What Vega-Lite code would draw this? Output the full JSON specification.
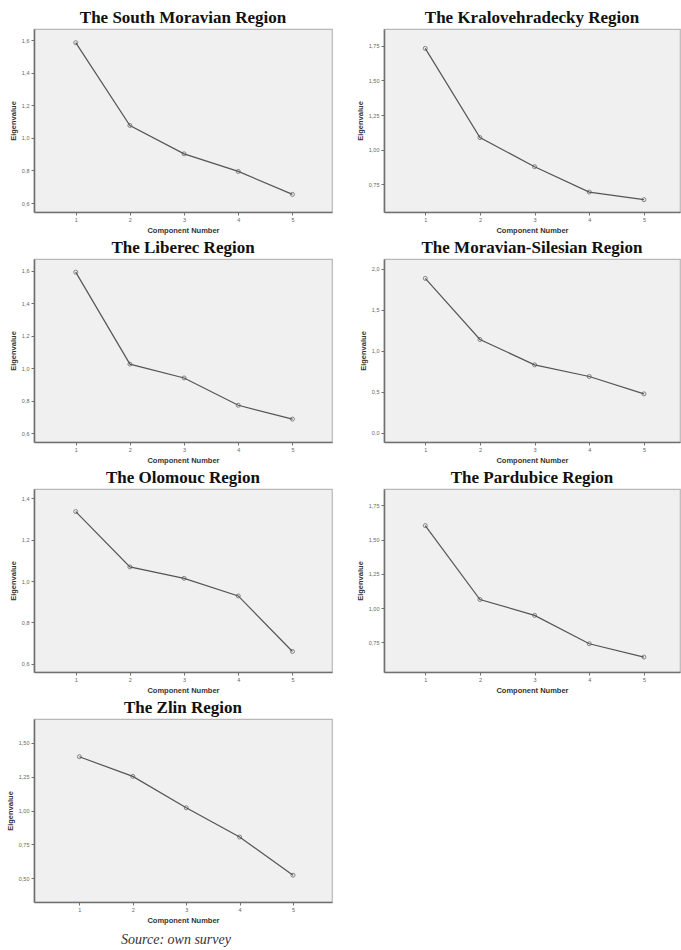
{
  "$schema": "https://vega.github.io/schema/vega-lite/v6.json",
  "padding": {"left": 5, "top": 8, "right": 0, "bottom": 0},
  "background": "white",
  "datasets": {
    "eig": [
      {"region": "SM", "component": 1, "eigenvalue": 1.584},
      {"region": "SM", "component": 2, "eigenvalue": 1.076},
      {"region": "SM", "component": 3, "eigenvalue": 0.902},
      {"region": "SM", "component": 4, "eigenvalue": 0.794},
      {"region": "SM", "component": 5, "eigenvalue": 0.653},
      {"region": "KH", "component": 1, "eigenvalue": 1.731},
      {"region": "KH", "component": 2, "eigenvalue": 1.087},
      {"region": "KH", "component": 3, "eigenvalue": 0.877},
      {"region": "KH", "component": 4, "eigenvalue": 0.694},
      {"region": "KH", "component": 5, "eigenvalue": 0.639},
      {"region": "LB", "component": 1, "eigenvalue": 1.590},
      {"region": "LB", "component": 2, "eigenvalue": 1.024},
      {"region": "LB", "component": 3, "eigenvalue": 0.939},
      {"region": "LB", "component": 4, "eigenvalue": 0.771},
      {"region": "LB", "component": 5, "eigenvalue": 0.686},
      {"region": "MS", "component": 1, "eigenvalue": 1.882},
      {"region": "MS", "component": 2, "eigenvalue": 1.138},
      {"region": "MS", "component": 3, "eigenvalue": 0.829},
      {"region": "MS", "component": 4, "eigenvalue": 0.687},
      {"region": "MS", "component": 5, "eigenvalue": 0.476},
      {"region": "OL", "component": 1, "eigenvalue": 1.335},
      {"region": "OL", "component": 2, "eigenvalue": 1.068},
      {"region": "OL", "component": 3, "eigenvalue": 1.013},
      {"region": "OL", "component": 4, "eigenvalue": 0.928},
      {"region": "OL", "component": 5, "eigenvalue": 0.660},
      {"region": "PA", "component": 1, "eigenvalue": 1.602},
      {"region": "PA", "component": 2, "eigenvalue": 1.063},
      {"region": "PA", "component": 3, "eigenvalue": 0.947},
      {"region": "PA", "component": 4, "eigenvalue": 0.740},
      {"region": "PA", "component": 5, "eigenvalue": 0.643},
      {"region": "ZL", "component": 1, "eigenvalue": 1.397},
      {"region": "ZL", "component": 2, "eigenvalue": 1.252},
      {"region": "ZL", "component": 3, "eigenvalue": 1.020},
      {"region": "ZL", "component": 4, "eigenvalue": 0.804},
      {"region": "ZL", "component": 5, "eigenvalue": 0.522}
    ]
  },
  "title": {"text": "Source: own survey", "orient": "bottom", "anchor": "start", "align": "center", "frame": "group", "dx": 142, "offset": 8, "font": "Liberation Serif", "fontStyle": "italic", "fontWeight": "normal", "fontSize": 14, "color": "#333333"},
  "columns": 2,
  "spacing": {"row": 47, "column": 52},
  "bounds": "flush",
  "concat": [
    {
      "title": "The South Moravian Region",
      "width": 298, "height": 183,
      "data": {"name": "eig"},
      "transform": [{"filter": "datum.region === 'SM'"}],
      "encoding": {
        "x": {"field": "component", "type": "quantitative", "scale": {"domain": [0.23, 5.73], "nice": false, "zero": false}, "axis": {"values": [1, 2, 3, 4, 5], "title": "Component Number"}},
        "y": {"field": "eigenvalue", "type": "quantitative", "scale": {"domain": [0.545, 1.668], "nice": false, "zero": false}, "axis": {"values": [0.6, 0.8, 1.0, 1.2, 1.4, 1.6], "labelExpr": "replace(format(datum.value, '.1f'), '.', ',')", "title": "Eigenvalue"}}
      },
      "layer": [
        {"mark": {"type": "line", "color": "#555555", "strokeWidth": 1.2}},
        {"mark": {"type": "point", "shape": "circle", "size": 16, "filled": false, "color": "#555555", "strokeWidth": 1}}
      ]
    },
    {
      "title": "The Kralovehradecky Region",
      "width": 296, "height": 183,
      "data": {"name": "eig"},
      "transform": [{"filter": "datum.region === 'KH'"}],
      "encoding": {
        "x": {"field": "component", "type": "quantitative", "scale": {"domain": [0.245, 5.66], "nice": false, "zero": false}, "axis": {"values": [1, 2, 3, 4, 5], "title": "Component Number"}},
        "y": {"field": "eigenvalue", "type": "quantitative", "scale": {"domain": [0.55, 1.871], "nice": false, "zero": false}, "axis": {"values": [0.75, 1.0, 1.25, 1.5, 1.75], "labelExpr": "replace(format(datum.value, '.2f'), '.', ',')", "title": "Eigenvalue"}}
      },
      "layer": [
        {"mark": {"type": "line", "color": "#555555", "strokeWidth": 1.2}},
        {"mark": {"type": "point", "shape": "circle", "size": 16, "filled": false, "color": "#555555", "strokeWidth": 1}}
      ]
    },
    {
      "title": "The Liberec Region",
      "width": 298, "height": 183,
      "data": {"name": "eig"},
      "transform": [{"filter": "datum.region === 'LB'"}],
      "encoding": {
        "x": {"field": "component", "type": "quantitative", "scale": {"domain": [0.23, 5.73], "nice": false, "zero": false}, "axis": {"values": [1, 2, 3, 4, 5], "title": "Component Number"}},
        "y": {"field": "eigenvalue", "type": "quantitative", "scale": {"domain": [0.545, 1.671], "nice": false, "zero": false}, "axis": {"values": [0.6, 0.8, 1.0, 1.2, 1.4, 1.6], "labelExpr": "replace(format(datum.value, '.1f'), '.', ',')", "title": "Eigenvalue"}}
      },
      "layer": [
        {"mark": {"type": "line", "color": "#555555", "strokeWidth": 1.2}},
        {"mark": {"type": "point", "shape": "circle", "size": 16, "filled": false, "color": "#555555", "strokeWidth": 1}}
      ]
    },
    {
      "title": "The Moravian-Silesian Region",
      "width": 296, "height": 183,
      "data": {"name": "eig"},
      "transform": [{"filter": "datum.region === 'MS'"}],
      "encoding": {
        "x": {"field": "component", "type": "quantitative", "scale": {"domain": [0.245, 5.66], "nice": false, "zero": false}, "axis": {"values": [1, 2, 3, 4, 5], "title": "Component Number"}},
        "y": {"field": "eigenvalue", "type": "quantitative", "scale": {"domain": [-0.11, 2.118], "nice": false, "zero": false}, "axis": {"values": [0, 0.5, 1.0, 1.5, 2.0], "labelExpr": "replace(format(datum.value, '.1f'), '.', ',')", "title": "Eigenvalue"}}
      },
      "layer": [
        {"mark": {"type": "line", "color": "#555555", "strokeWidth": 1.2}},
        {"mark": {"type": "point", "shape": "circle", "size": 16, "filled": false, "color": "#555555", "strokeWidth": 1}}
      ]
    },
    {
      "title": "The Olomouc Region",
      "width": 298, "height": 183,
      "data": {"name": "eig"},
      "transform": [{"filter": "datum.region === 'OL'"}],
      "encoding": {
        "x": {"field": "component", "type": "quantitative", "scale": {"domain": [0.23, 5.73], "nice": false, "zero": false}, "axis": {"values": [1, 2, 3, 4, 5], "title": "Component Number"}},
        "y": {"field": "eigenvalue", "type": "quantitative", "scale": {"domain": [0.561, 1.444], "nice": false, "zero": false}, "axis": {"values": [0.6, 0.8, 1.0, 1.2, 1.4], "labelExpr": "replace(format(datum.value, '.1f'), '.', ',')", "title": "Eigenvalue"}}
      },
      "layer": [
        {"mark": {"type": "line", "color": "#555555", "strokeWidth": 1.2}},
        {"mark": {"type": "point", "shape": "circle", "size": 16, "filled": false, "color": "#555555", "strokeWidth": 1}}
      ]
    },
    {
      "title": "The Pardubice Region",
      "width": 296, "height": 183,
      "data": {"name": "eig"},
      "transform": [{"filter": "datum.region === 'PA'"}],
      "encoding": {
        "x": {"field": "component", "type": "quantitative", "scale": {"domain": [0.245, 5.66], "nice": false, "zero": false}, "axis": {"values": [1, 2, 3, 4, 5], "title": "Component Number"}},
        "y": {"field": "eigenvalue", "type": "quantitative", "scale": {"domain": [0.534, 1.869], "nice": false, "zero": false}, "axis": {"values": [0.75, 1.0, 1.25, 1.5, 1.75], "labelExpr": "replace(format(datum.value, '.2f'), '.', ',')", "title": "Eigenvalue"}}
      },
      "layer": [
        {"mark": {"type": "line", "color": "#555555", "strokeWidth": 1.2}},
        {"mark": {"type": "point", "shape": "circle", "size": 16, "filled": false, "color": "#555555", "strokeWidth": 1}}
      ]
    },
    {
      "title": "The Zlin Region",
      "width": 298, "height": 183,
      "data": {"name": "eig"},
      "transform": [{"filter": "datum.region === 'ZL'"}],
      "encoding": {
        "x": {"field": "component", "type": "quantitative", "scale": {"domain": [0.15, 5.73], "nice": false, "zero": false}, "axis": {"values": [1, 2, 3, 4, 5], "title": "Component Number"}},
        "y": {"field": "eigenvalue", "type": "quantitative", "scale": {"domain": [0.324, 1.676], "nice": false, "zero": false}, "axis": {"values": [0.5, 0.75, 1.0, 1.25, 1.5], "labelExpr": "replace(format(datum.value, '.2f'), '.', ',')", "title": "Eigenvalue"}}
      },
      "layer": [
        {"mark": {"type": "line", "color": "#555555", "strokeWidth": 1.2}},
        {"mark": {"type": "point", "shape": "circle", "size": 16, "filled": false, "color": "#555555", "strokeWidth": 1}}
      ]
    }
  ],
  "config": {
    "view": {"fill": "#f0f0f0", "stroke": "#b8b8b8", "strokeWidth": 1.2},
    "title": {"font": "Liberation Serif", "fontWeight": "bold", "fontSize": 17, "color": "#111111", "offset": 2, "anchor": "middle"},
    "axis": {
      "grid": false,
      "domain": true, "domainColor": "#707070", "domainWidth": 1.6,
      "ticks": true, "tickColor": "#707070", "tickSize": 3, "tickWidth": 1,
      "labelFont": "Liberation Sans", "labelFontSize": 5.5, "labelColor": "#666666", "labelPadding": 2,
      "titleFont": "Liberation Sans", "titleFontSize": 7.5, "titleFontWeight": "bold", "titleColor": "#333333"
    },
    "axisX": {"labelAngle": 0, "titlePadding": 4, "labelFlush": false},
    "axisY": {"titlePadding": 4, "labelFlush": false}
  }
}
